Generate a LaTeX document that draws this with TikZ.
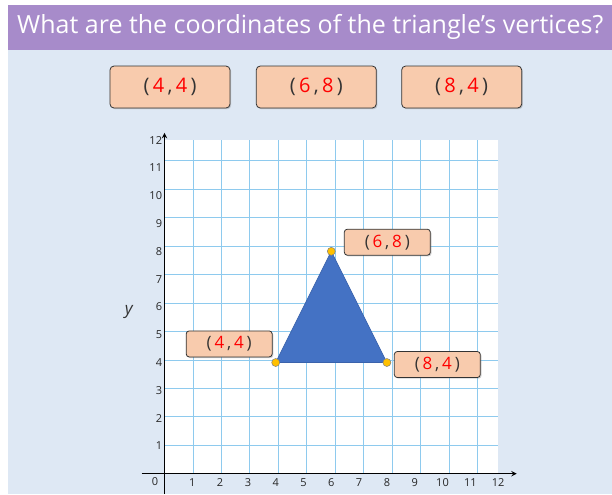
\documentclass[tikz,border=0pt]{standalone}
\usepackage{fontspec}
\setmainfont{Open Sans}
\usetikzlibrary{shadows}
\definecolor{titlebar}{HTML}{A78BCA}
\definecolor{pagebg}{HTML}{DEE8F4}
\definecolor{peach}{HTML}{F8CBAD}
\definecolor{gridblue}{HTML}{8ECAEE}
\definecolor{triblue}{HTML}{4472C4}
\definecolor{triedge}{HTML}{3A62AB}
\definecolor{dotgold}{HTML}{FFC000}
\definecolor{inkgray}{HTML}{333333}
\newcommand{\coordtext}[2]{%
  \textcolor{inkgray}{(}\,\textcolor{red}{#1}\,\textcolor{inkgray}{,}\,\textcolor{red}{#2}\,\textcolor{inkgray}{)}%
}

\begin{document}
\begin{tikzpicture}[
      x=27.8pt, y=27.8pt,
      every node/.style={inner sep=0pt},
      answer/.style={draw=inkgray, fill=peach, rounded corners=4pt, line width=0.8pt,
        minimum width=120pt, minimum height=42pt, font=\fontsize{20}{24}\selectfont,
        drop shadow={opacity=0.35, shadow xshift=1.2pt, shadow yshift=-1.2pt}},
      tag/.style={answer, minimum width=86pt, minimum height=26pt, rounded corners=3pt,
        font=\fontsize{17}{20}\selectfont},
      vertex/.style={circle, draw=gray, fill=dotgold, line width=0.5pt, minimum size=8pt},
      ticknum/.style={font=\fontsize{11}{13}\selectfont, text=black!85},
      axis/.style={line width=1.4pt, -stealth}
    ]
      \useasboundingbox (-5.917,-0.730) rectangle (16.097,17.04);
      \fill[white] (-5.917,-0.730) rectangle (16.097,17.04);
      \fill[pagebg] (-5.629,-0.730) rectangle (16.097,15.234);
      \fill[titlebar] (-5.629,15.234) rectangle (16.097,16.853);
      \node[anchor=west, text=white, font=\fontsize{25}{30}\selectfont] (title)
        at (-5.306,16.07) {What are the coordinates of the triangle’s vertices?};

      \node[answer] (ansA) at (0.198,13.91) {\coordtext{4}{4}};
      \node[answer] (ansB) at (5.46,13.91) {\coordtext{6}{8}};
      \node[answer] (ansC) at (10.69,13.91) {\coordtext{8}{4}};

      \fill[white] (0,0) rectangle (12,12);
      \draw[gridblue, line width=0.8pt] (0,0) grid (12,12);
      \draw[axis] (-0.823,0) -- (12.67,0);
      \draw[axis] (0,-0.73) -- (0,12.26);
      \foreach \k in {1,...,12} {
        \node[ticknum, anchor=east] (ylab\k) at (-0.08,\k) {\k};
        \node[ticknum] (xlab\k) at (\k,-0.33) {\k};
      }
      \node[ticknum] (zero) at (-0.34,-0.27) {0};
      \node[font=\itshape\fontsize{17}{19}\selectfont, text=inkgray] (ylabel) at (-1.28,5.83) {y};

      \coordinate (A) at (4,4);
      \coordinate (B) at (6,8);
      \coordinate (C) at (8,4);
      \filldraw[fill=triblue, draw=triedge, line width=0.6pt] (A) -- (B) -- (C) -- cycle;
      \node[vertex] (dotA) at (A) {};
      \node[vertex] (dotB) at (B) {};
      \node[vertex] (dotC) at (C) {};

      \node[tag] (tagA) at (2.327,4.669) {\coordtext{4}{4}};
      \node[tag] (tagB) at (8.015,8.327) {\coordtext{6}{8}};
      \node[tag] (tagC) at (9.813,3.928) {\coordtext{8}{4}};
    \end{tikzpicture}
\end{document}
